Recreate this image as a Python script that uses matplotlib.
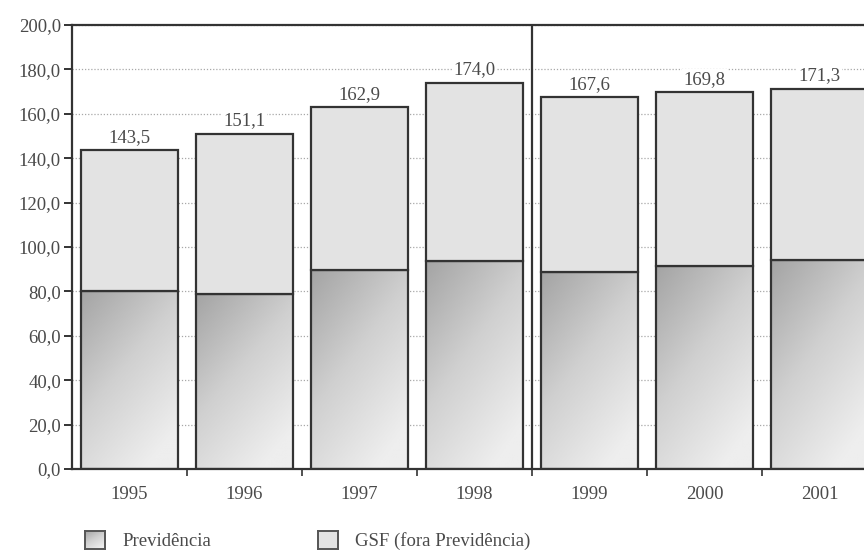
import numpy as np
import matplotlib
matplotlib.use("Agg")
import matplotlib.pyplot as plt
from matplotlib.colors import LinearSegmentedColormap
from matplotlib.ticker import FixedLocator, FuncFormatter

years = ["1995", "1996", "1997", "1998", "1999", "2000", "2001"]
previdencia = [80.2, 78.8, 89.6, 93.7, 88.6, 91.4, 94.0]
totals = [143.5, 151.1, 162.9, 174.0, 167.6, 169.8, 171.3]
gsf = [t - p for t, p in zip(totals, previdencia)]
legend_labels = ["Previdência", "GSF (fora Previdência)"]

plt.rcParams["font.family"] = ["Liberation Serif", "DejaVu Serif"]
TXT = "#4a4a4a"
EDGE = "#333333"
FS = 13.5

fig = plt.figure(figsize=(8.64, 5.54), dpi=100)
# axes runs slightly past the right edge of the canvas
ax = fig.add_axes([72 / 864, 85 / 554, 805 / 864, 444 / 554])

x = np.arange(len(years))
w = 0.835
cmap = LinearSegmentedColormap.from_list("g", ["#a4a4a4", "#d0d0d0", "#eeeeee"])

# diagonal gradient: dark at top-left, light at bottom-right (row 0 = top)
gy, gx = np.mgrid[0:1:200j, 0:1:60j]
grad = np.clip(gy * 0.7 + gx * 0.45, 0, 1)

bottoms = ax.bar(x, previdencia, w, color="none", edgecolor=EDGE, linewidth=1.6, zorder=3)
for rect, h in zip(bottoms, previdencia):
    x0 = rect.get_x()
    im = ax.imshow(grad, extent=[x0, x0 + w, 0, h], origin="upper", cmap=cmap,
                   aspect="auto", vmin=0, vmax=1, zorder=2)
    im.set_clip_path(rect)
ax.bar(x, gsf, w, bottom=previdencia, color="#e3e3e3", edgecolor=EDGE, linewidth=1.6, zorder=3)

for xi, t in zip(x, totals):
    ax.annotate(f"{t:.1f}".replace(".", ","), (xi, t), xytext=(0, 3), textcoords="offset points",
                ha="center", va="bottom", fontsize=FS, color=TXT, zorder=5,
                bbox=dict(boxstyle="square,pad=0.1", fc="white", ec="none"))

ax.set_xlim(-0.5, len(years) - 0.5)
ax.set_ylim(0, 200)

# separator between 1998 and 1999
ax.axvline(3.5, color=EDGE, linewidth=1.6, zorder=4)

ax.set_yticks(np.arange(0, 201, 20))
ax.yaxis.set_major_formatter(FuncFormatter(lambda v, p: f"{v:.1f}".replace(".", ",")))
ax.yaxis.grid(True, linestyle=(0, (1, 1.5)), color="#a8a8a8", linewidth=0.9, zorder=0)
ax.set_axisbelow(True)

ax.set_xticks(x)
ax.set_xticklabels(years)
ax.xaxis.set_minor_locator(FixedLocator(np.arange(0.5, len(years) - 0.5, 1)))
ax.tick_params(axis="x", which="major", length=0, pad=12, labelsize=FS, labelcolor=TXT)
ax.tick_params(axis="x", which="minor", length=5, width=1.2, color=EDGE, direction="out")
ax.tick_params(axis="y", length=6, width=1.4, color=EDGE, pad=2, labelsize=FS, labelcolor=TXT)

for s in ["left", "top", "bottom"]:
    ax.spines[s].set_color(EDGE)
    ax.spines[s].set_linewidth(1.6)
ax.spines["right"].set_visible(False)

# legend
lg_items = [(85, legend_labels[0], True), (318, legend_labels[1], False)]
for px, label, gradient in lg_items:
    sq = fig.add_axes([px / 864, (554 - 549) / 554, 20 / 864, 18 / 554])
    if gradient:
        sq.imshow(grad, cmap=cmap, aspect="auto", vmin=0, vmax=1, origin="upper")
    else:
        sq.set_facecolor("#e3e3e3")
    sq.set_xticks([])
    sq.set_yticks([])
    for s in sq.spines.values():
        s.set_color("#555555")
        s.set_linewidth(1.4)
    fig.text((px + 37) / 864, (554 - 541) / 554, label, fontsize=FS, color=TXT,
             ha="left", va="center")

fig.savefig("out.png", dpi=100)
